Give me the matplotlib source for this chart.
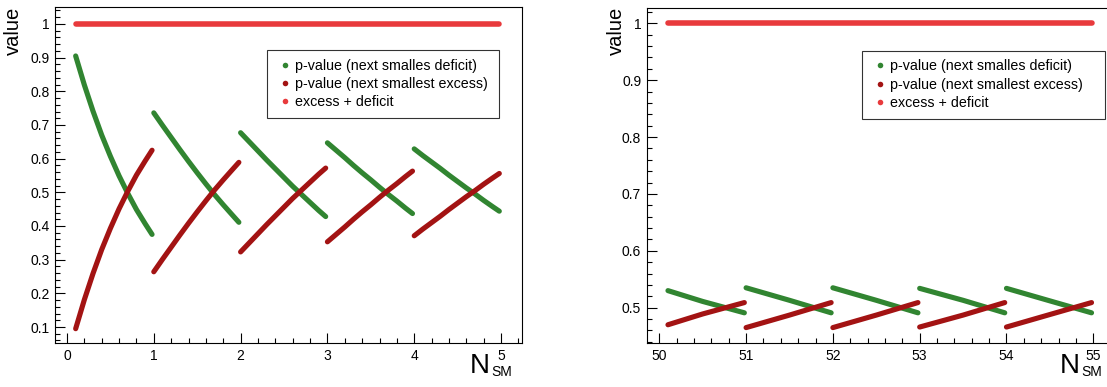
import matplotlib
matplotlib.use('Agg')
import matplotlib.pyplot as plt
from matplotlib.lines import Line2D
from matplotlib.ticker import MultipleLocator, FixedLocator

plt.rcParams['font.family'] = ['Liberation Sans', 'DejaVu Sans']

GREEN = '#318531'
DARK_RED = '#a31313'
RED = '#e83a3c'

# low expectation pad, one segment per integer step of N_SM
low_x = [
    [0.1, 0.2, 0.3, 0.4, 0.5, 0.6, 0.7, 0.8, 0.9, 0.98],
    [1.0, 1.1, 1.2, 1.3, 1.4, 1.5, 1.6, 1.7, 1.8, 1.9, 1.98],
    [2.0, 2.1, 2.2, 2.3, 2.4, 2.5, 2.6, 2.7, 2.8, 2.9, 2.98],
    [3.0, 3.1, 3.2, 3.3, 3.4, 3.5, 3.6, 3.7, 3.8, 3.9, 3.98],
    [4.0, 4.1, 4.2, 4.3, 4.4, 4.5, 4.6, 4.7, 4.8, 4.9, 4.98],
]
low_deficit = [
    [0.905, 0.819, 0.741, 0.670, 0.607, 0.549, 0.497, 0.449, 0.407, 0.375],
    [0.736, 0.699, 0.663, 0.627, 0.592, 0.558, 0.525, 0.493, 0.463, 0.434, 0.411],
    [0.677, 0.650, 0.623, 0.596, 0.570, 0.544, 0.518, 0.494, 0.470, 0.446, 0.428],
    [0.647, 0.625, 0.603, 0.580, 0.558, 0.537, 0.515, 0.494, 0.474, 0.453, 0.437],
    [0.629, 0.609, 0.590, 0.571, 0.551, 0.532, 0.513, 0.495, 0.476, 0.458, 0.444],
]
low_excess = [
    [0.095, 0.181, 0.259, 0.330, 0.393, 0.451, 0.503, 0.551, 0.593, 0.625],
    [0.264, 0.301, 0.337, 0.373, 0.408, 0.442, 0.475, 0.507, 0.537, 0.566, 0.589],
    [0.323, 0.350, 0.377, 0.404, 0.430, 0.456, 0.482, 0.506, 0.530, 0.554, 0.572],
    [0.353, 0.375, 0.397, 0.420, 0.442, 0.463, 0.485, 0.506, 0.526, 0.547, 0.563],
    [0.371, 0.391, 0.410, 0.429, 0.449, 0.468, 0.487, 0.505, 0.524, 0.542, 0.556],
]

# high expectation pad
high_x = [
    [50.1, 50.5, 50.98],
    [51.0, 51.5, 51.98],
    [52.0, 52.5, 52.98],
    [53.0, 53.5, 53.98],
    [54.0, 54.5, 54.98],
]
high_deficit = [
    [0.530, 0.511, 0.491],
    [0.535, 0.513, 0.491],
    [0.535, 0.513, 0.491],
    [0.534, 0.513, 0.491],
    [0.534, 0.512, 0.491],
]
high_excess = [
    [0.470, 0.489, 0.509],
    [0.465, 0.487, 0.509],
    [0.465, 0.487, 0.509],
    [0.466, 0.487, 0.509],
    [0.466, 0.488, 0.509],
]

labels = ['p-value (next smalles deficit)', 'p-value (next smallest excess)',
          'excess + deficit']

W, H = 1107, 387
LW = 3.7


def draw_pad(ax, xs, deficit, excess, xlim, ylim, xticks):
    for x, y in zip(xs, deficit):
        ax.plot(x, y, color=GREEN, lw=LW, solid_capstyle='round')
    for x, y in zip(xs, excess):
        ax.plot(x, y, color=DARK_RED, lw=LW, solid_capstyle='round')
    all_x = [v for seg in xs for v in seg]
    total = [d + e for sd, se in zip(deficit, excess) for d, e in zip(sd, se)]
    ax.plot(all_x, total, color=RED, lw=LW + 0.3, solid_capstyle='round')

    ax.set_xlim(*xlim)
    ax.set_ylim(*ylim)
    ax.xaxis.set_major_locator(FixedLocator(xticks))
    ax.xaxis.set_minor_locator(MultipleLocator(0.2))
    ax.yaxis.set_major_locator(MultipleLocator(0.1))
    ax.yaxis.set_minor_locator(MultipleLocator(0.02))
    ax.set_xticklabels([str(t) for t in xticks])
    ax.yaxis.set_major_formatter(plt.FuncFormatter(lambda v, p: '%g' % round(v, 2)))
    ax.tick_params(which='both', direction='in', top=False, right=False,
                   labelsize=10, width=0.8, color='black')
    ax.tick_params(which='major', length=7, pad=4)
    ax.tick_params(which='minor', length=3.5)
    for s in ax.spines.values():
        s.set_linewidth(0.8)


def add_legend(ax, box):
    handles = [Line2D([], [], ls='none', marker='o', ms=4, mew=0, color=c)
               for c in (GREEN, DARK_RED, RED)]
    leg = ax.legend(handles, labels, loc='upper left', bbox_to_anchor=box,
                    mode='expand', fontsize=10.3, frameon=True, fancybox=False,
                    borderaxespad=0, handlelength=1.3, handletextpad=0.1,
                    labelspacing=0.3, borderpad=0.6)
    leg.get_frame().set_edgecolor('black')
    leg.get_frame().set_linewidth(0.8)


fig = plt.figure(figsize=(W / 100, H / 100), dpi=100)

ax1 = fig.add_axes([55 / W, 1 - 343 / H, 466.7 / W, 335.7 / H])
draw_pad(ax1, low_x, low_deficit, low_excess,
         (-0.138, 5.238), (0.0525, 1.0495), [0, 1, 2, 3, 4, 5])
add_legend(ax1, (0.454, 0.676, 0.497, 0.197))

ax2 = fig.add_axes([646.7 / W, 1 - 343.3 / H, 466.7 / W, 335 / H])
draw_pad(ax2, high_x, high_deficit, high_excess,
         (49.855, 55.232), (0.4374, 1.0264), [50, 51, 52, 53, 54, 55])
add_legend(ax2, (0.461, 0.676, 0.521, 0.197))

# axis titles, ROOT style
for xv, xn in ((13 / W, 470 / W), (616 / W, 1060 / W)):
    fig.text(xv, 0.982, 'value', rotation=90, ha='center', va='top', fontsize=14.5)
    fig.text(xn, 1 - 373 / H, 'N', ha='left', va='baseline', fontsize=20)
    fig.text(xn + 21 / W, 1 - 376 / H, 'SM', ha='left', va='baseline', fontsize=10)

fig.savefig('out.png', dpi=100)
